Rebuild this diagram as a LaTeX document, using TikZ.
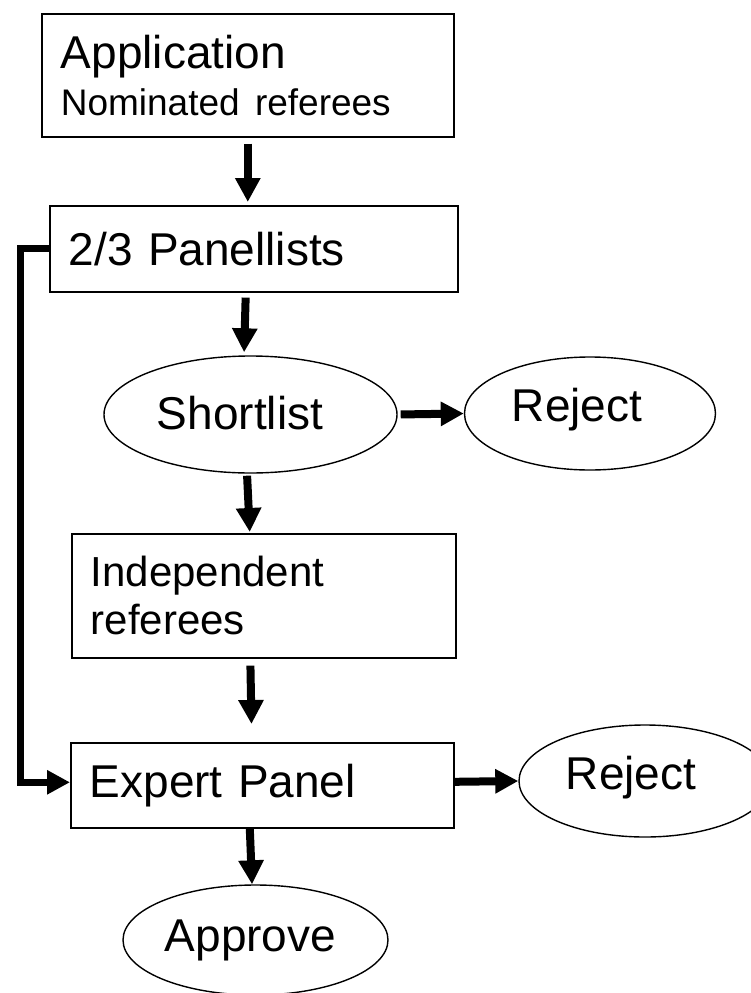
\documentclass[tikz,border=0pt]{standalone}
\usepackage{fontspec}
\setmainfont{Liberation Sans}
\usetikzlibrary{arrows.meta,shapes.geometric}
\begin{document}
\begin{tikzpicture}[x=1pt,y=-1pt,
  box/.style={draw, line width=1.6pt, rectangle, anchor=north west, align=left,
    inner xsep=19pt, inner ysep=0pt, font=\fontsize{46}{48}\selectfont},
  oval/.style={draw, line width=1.4pt, ellipse, inner sep=0pt},
  otext/.style={font=\fontsize{46}{48}\selectfont, inner sep=0pt},
  arr/.style={line width=8pt, -{Triangle[width=24pt,length=24pt]}},
  harr/.style={line width=8pt, -{Triangle[width=23pt,length=23pt]}},
  fbline/.style={line width=7pt, line join=miter, -{Triangle[width=23pt,length=23pt]}}]
\path[clip] (0,0) rectangle (751,993);
\fill[white] (0,0) rectangle (751,993);

% boxes
\node[box, text width=374pt, minimum height=123pt] (app) at (41,13)
  {Application\\[-1pt]{\fontsize{37}{47}\selectfont Nominated referees}};
\node[box, text width=370pt, minimum height=86pt] (panel) at (49,205) {2/3 Panellists};
\node[box, text width=346pt, minimum height=124pt, font=\fontsize{42}{48}\selectfont] (indep) at (71,533)
  {Independent\\referees};
\node[box, text width=345pt, minimum height=85pt] (expert) at (70,742) {Expert Panel};

% ellipses
\node[oval, minimum width=293pt, minimum height=117pt,
  label={[otext, xshift=-10.5pt, yshift=1.3pt]center:Shortlist}] (short) at (250.5,414.5) {};
\node[oval, minimum width=251pt, minimum height=113pt,
  label={[otext, xshift=-13pt, yshift=3.5pt]center:Reject}] (rej1) at (590,413.5) {};
\node[oval, minimum width=252pt, minimum height=112pt,
  label={[otext, xshift=-14pt, yshift=3pt]center:Reject}] (rej2) at (645,781) {};
\node[oval, minimum width=265pt, minimum height=110pt,
  label={[otext, xshift=-5pt, yshift=0pt]center:Approve}] (approve) at (255.5,940) {};

% feedback coordinate
\coordinate (fb) at (20.5,500);

% connectors
\draw[arr, shorten <=6pt, shorten >=3pt] ([xshift=0pt]app.south) -- ([xshift=-6pt]panel.north);
\draw[arr, shorten <=5pt, shorten >=3pt] ([xshift=-8pt]panel.south) -- ([xshift=-6.5pt]short.north);
\draw[harr, shorten <=3pt] (short.east) -- (rej1.west);
\draw[arr, shorten <=2pt, shorten >=1pt] ([xshift=-3.5pt]short.south) -- ([xshift=-14pt]indep.north);
\draw[arr, shorten <=7pt, shorten >=18pt] ([xshift=-13.5pt]indep.south) -- ([xshift=-10.5pt]expert.north);
\draw[harr] ([yshift=3.5pt]expert.east) -- (rej2.west);
\draw[arr] ([xshift=-12.5pt]expert.south) -- ([xshift=-3.5pt]approve.north);
\draw[fbline] (panel.west) -- (panel.west -| fb) |- ([yshift=3pt]expert.west);
\end{tikzpicture}
\end{document}
